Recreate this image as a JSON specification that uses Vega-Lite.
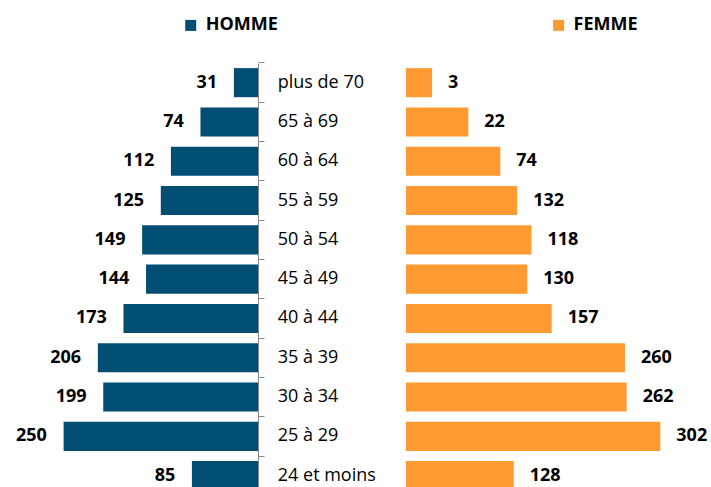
{
  "$schema": "https://vega.github.io/schema/vega-lite/v6.json",
  "padding": {"left": 0, "top": 16, "right": 0, "bottom": 0},
  "background": "white",
  "spacing": -2,
  "config": {"view": {"stroke": null}, "font": "Open Sans"},
  "data": {
    "values": [
      {"age": "plus de 70", "sexe": "HOMME", "valeur": 31, "etiquette": 31},
      {"age": "65 à 69", "sexe": "HOMME", "valeur": 74, "etiquette": 74},
      {"age": "60 à 64", "sexe": "HOMME", "valeur": 112, "etiquette": 112},
      {"age": "55 à 59", "sexe": "HOMME", "valeur": 125, "etiquette": 125},
      {"age": "50 à 54", "sexe": "HOMME", "valeur": 149, "etiquette": 149},
      {"age": "45 à 49", "sexe": "HOMME", "valeur": 144, "etiquette": 144},
      {"age": "40 à 44", "sexe": "HOMME", "valeur": 173, "etiquette": 173},
      {"age": "35 à 39", "sexe": "HOMME", "valeur": 206, "etiquette": 206},
      {"age": "30 à 34", "sexe": "HOMME", "valeur": 199, "etiquette": 199},
      {"age": "25 à 29", "sexe": "HOMME", "valeur": 250, "etiquette": 250},
      {"age": "24 et moins", "sexe": "HOMME", "valeur": 85, "etiquette": 85},
      {"age": "plus de 70", "sexe": "FEMME", "valeur": 31, "etiquette": 3},
      {"age": "65 à 69", "sexe": "FEMME", "valeur": 74, "etiquette": 22},
      {"age": "60 à 64", "sexe": "FEMME", "valeur": 112, "etiquette": 74},
      {"age": "55 à 59", "sexe": "FEMME", "valeur": 132, "etiquette": 132},
      {"age": "50 à 54", "sexe": "FEMME", "valeur": 149, "etiquette": 118},
      {"age": "45 à 49", "sexe": "FEMME", "valeur": 144, "etiquette": 130},
      {"age": "40 à 44", "sexe": "FEMME", "valeur": 173, "etiquette": 157},
      {"age": "35 à 39", "sexe": "FEMME", "valeur": 260, "etiquette": 260},
      {"age": "30 à 34", "sexe": "FEMME", "valeur": 262, "etiquette": 262},
      {"age": "25 à 29", "sexe": "FEMME", "valeur": 302, "etiquette": 302},
      {"age": "24 et moins", "sexe": "FEMME", "valeur": 128, "etiquette": 128}
    ]
  },
  "hconcat": [
    {
      "width": 258,
      "height": 432.3,
      "transform": [{"filter": "datum.sexe === 'HOMME'"}],
      "encoding": {
        "y": {
          "field": "age", "type": "nominal", "sort": null,
          "scale": {"paddingInner": 0, "paddingOuter": 0},
          "axis": {"orient": "right", "title": null, "labels": false, "domainColor": "#888888", "domainWidth": 1, "tickColor": "#888888", "tickWidth": 1, "tickSize": 6, "bandPosition": 0, "grid": false}
        },
        "x": {
          "field": "valeur", "type": "quantitative",
          "scale": {"domain": [0, 331.8], "reverse": true, "nice": false},
          "axis": null
        }
      },
      "layer": [
        {
          "mark": {"type": "bar", "height": {"band": 0.74}},
          "encoding": {
            "color": {
              "field": "sexe", "type": "nominal",
              "scale": {"domain": ["HOMME"], "range": ["#004E73"]},
              "legend": {"orient": "none", "legendX": 181.7, "legendY": -46.6, "title": null, "symbolType": "square", "symbolSize": 121, "symbolStrokeWidth": 0, "labelFont": "Open Sans", "labelFontSize": 18, "labelFontWeight": "bold", "labelColor": "#000000", "labelOffset": 6, "padding": 0, "symbolOffset": 0}
            }
          }
        },
        {
          "mark": {"type": "text", "align": "right", "baseline": "middle", "dx": -16.7, "fontSize": 18, "fontWeight": "bold", "font": "Open Sans", "color": "#000000"},
          "encoding": {"text": {"field": "etiquette", "type": "quantitative"}}
        }
      ]
    },
    {
      "width": 304,
      "height": 432.3,
      "transform": [{"filter": "datum.sexe === 'FEMME'"}],
      "encoding": {
        "y": {
          "field": "age", "type": "nominal", "sort": null,
          "scale": {"paddingInner": 0, "paddingOuter": 0},
          "axis": {"orient": "left", "title": null, "domain": false, "ticks": false, "tickSize": 0, "grid": false, "labelAlign": "left", "labelBaseline": "middle", "labelPadding": 128.7, "labelFont": "Open Sans", "labelFontSize": 18, "labelColor": "#000000"}
        },
        "x": {
          "field": "valeur", "type": "quantitative",
          "scale": {"domain": [0, 361], "nice": false},
          "axis": null
        }
      },
      "layer": [
        {
          "mark": {"type": "bar", "height": {"band": 0.74}},
          "encoding": {
            "color": {
              "field": "sexe", "type": "nominal",
              "scale": {"domain": ["FEMME"], "range": ["#FF9A33"]},
              "legend": {"orient": "none", "legendX": 143.6, "legendY": -46.6, "title": null, "symbolType": "square", "symbolSize": 121, "symbolStrokeWidth": 0, "labelFont": "Open Sans", "labelFontSize": 18, "labelFontWeight": "bold", "labelColor": "#000000", "labelOffset": 6, "padding": 0, "symbolOffset": 0}
            }
          }
        },
        {
          "mark": {"type": "text", "align": "left", "baseline": "middle", "dx": 16, "fontSize": 18, "fontWeight": "bold", "font": "Open Sans", "color": "#000000"},
          "encoding": {"text": {"field": "etiquette", "type": "quantitative"}}
        }
      ]
    }
  ],
  "resolve": {
    "scale": {"x": "independent", "y": "independent", "color": "independent"},
    "legend": {"color": "independent"}
  }
}
